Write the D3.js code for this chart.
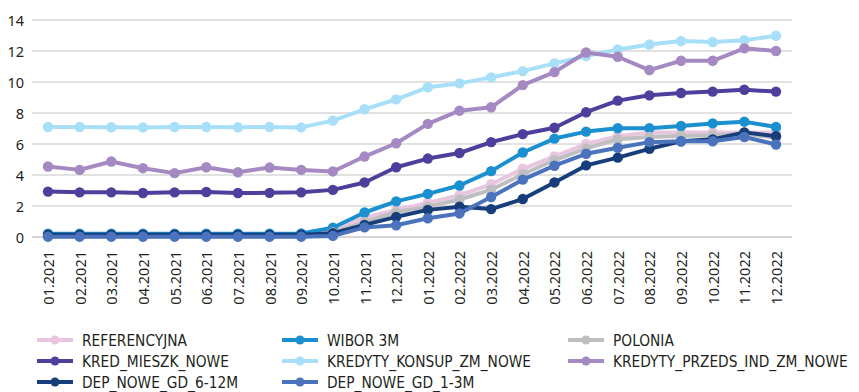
<!DOCTYPE html>
<html>
<head>
<meta charset="utf-8">
<script src="https://cdn.jsdelivr.net/npm/d3@7/dist/d3.min.js"></script>
<style>
  html, body { margin: 0; padding: 0; background: #fff; }
  svg { display: block; }
  .tick-label { font-family: "Noto Sans", "Open Sans", sans-serif; font-size: 14.5px; fill: #231f20; }
  .legend-label { font-family: "DejaVu Sans Condensed", "Liberation Sans Narrow", sans-serif; font-size: 15.3px; fill: #231f20; }
</style>
</head>
<body>
<svg id="chart" width="859" height="392"></svg>
<script>
// Monthly interest rates, 01.2021 – 12.2022 (%)
const months = ["01.2021","02.2021","03.2021","04.2021","05.2021","06.2021","07.2021","08.2021","09.2021","10.2021","11.2021","12.2021",
                "01.2022","02.2022","03.2022","04.2022","05.2022","06.2022","07.2022","08.2022","09.2022","10.2022","11.2022","12.2022"];

const yTicks = [0, 2, 4, 6, 8, 10, 12, 14];

const referencyjna = [0.1,0.1,0.1,0.1,0.1,0.1,0.1,0.1,0.1,0.5,1.25,1.75,2.2,2.7,3.4,4.4,5.2,6.0,6.5,6.75,6.75,6.75,6.75,6.75];
const wibor3m      = [0.21,0.21,0.21,0.21,0.21,0.21,0.21,0.21,0.23,0.6,1.58,2.3,2.78,3.32,4.25,5.45,6.35,6.8,7.02,7.02,7.16,7.33,7.44,7.1];
const polonia      = [0.05,0.05,0.05,0.05,0.05,0.05,0.05,0.05,0.05,0.3,0.95,1.6,1.95,2.42,3.05,4.05,4.95,5.72,6.3,6.45,6.52,6.56,6.66,6.4];
const kredMieszk   = [2.93,2.88,2.88,2.84,2.88,2.9,2.84,2.85,2.88,3.04,3.52,4.5,5.06,5.42,6.12,6.64,7.05,8.05,8.8,9.14,9.29,9.38,9.5,9.38];
const kredKonsup   = [7.1,7.1,7.08,7.07,7.1,7.1,7.08,7.1,7.07,7.51,8.24,8.88,9.66,9.91,10.3,10.7,11.2,11.67,12.1,12.42,12.64,12.58,12.7,12.98];
const kredPrzeds   = [4.55,4.33,4.87,4.44,4.12,4.5,4.18,4.48,4.33,4.23,5.19,6.05,7.3,8.15,8.37,9.8,10.64,11.9,11.63,10.77,11.37,11.37,12.17,12.0];
const dep612       = [0.15,0.15,0.15,0.15,0.15,0.15,0.15,0.15,0.15,0.24,0.78,1.3,1.75,1.95,1.8,2.45,3.52,4.62,5.12,5.69,6.17,6.3,6.75,6.5];
const dep13        = [0.02,0.02,0.02,0.02,0.02,0.02,0.02,0.02,0.02,0.07,0.62,0.76,1.21,1.52,2.58,3.7,4.6,5.37,5.76,6.12,6.18,6.18,6.45,5.97];

const seriesNames  = ["REFERENCYJNA","WIBOR 3M","POLONIA","KRED_MIESZK_NOWE","KREDYTY_KONSUP_ZM_NOWE","KREDYTY_PRZEDS_IND_ZM_NOWE","DEP_NOWE_GD_6-12M","DEP_NOWE_GD_1-3M"];
const seriesValues = [referencyjna, wibor3m, polonia, kredMieszk, kredKonsup, kredPrzeds, dep612, dep13];
const seriesColors = ["#e8c6df","#1b90d0","#bfbfc1","#4f3e9b","#a8dff8","#a589c2","#173e7b","#4a72bd"];

const svg = d3.select("#chart");

const x = d3.scalePoint().domain(months).range([48, 776]);
const y = d3.scaleLinear().domain([0, 14]).range([237, 20]);
const plotLeft = 32, plotRight = 792;

// horizontal gridlines
svg.append("g").selectAll("line").data(yTicks).join("line")
  .attr("x1", plotLeft).attr("x2", plotRight)
  .attr("y1", d => y(d)).attr("y2", d => y(d))
  .attr("stroke", d => d === 0 ? "#c8c8c8" : "#d9d9d9")
  .attr("stroke-width", 1.5);

// y tick labels
svg.append("g").selectAll("text").data(yTicks).join("text")
  .attr("class", "tick-label")
  .attr("x", 24).attr("y", d => y(d))
  .attr("text-anchor", "end").attr("dominant-baseline", "central")
  .text(d => d);

// x tick labels, rotated
svg.append("g").selectAll("text").data(months).join("text")
  .attr("class", "tick-label")
  .attr("transform", d => `translate(${x(d)},251) rotate(-90)`)
  .attr("text-anchor", "end").attr("dominant-baseline", "central")
  .text(d => d);

// series lines and markers
const line = d3.line().x((d, i) => x(months[i])).y(d => y(d));
seriesValues.forEach((vals, s) => {
  const g = svg.append("g");
  g.append("path").datum(vals)
    .attr("d", line).attr("fill", "none")
    .attr("stroke", seriesColors[s]).attr("stroke-width", 4)
    .attr("stroke-linejoin", "round");
  g.selectAll("circle").data(vals).join("circle")
    .attr("cx", (d, i) => x(months[i])).attr("cy", d => y(d))
    .attr("r", 5.2).attr("fill", seriesColors[s]);
});

// legend: 3 columns, 3 rows
const legCols = [37, 282, 568];
const legRows = [340, 361, 382];
const leg = svg.append("g");
seriesNames.forEach((name, i) => {
  const cx = legCols[i % 3], cy = legRows[Math.floor(i / 3)];
  const g = leg.append("g");
  g.append("line").attr("x1", cx).attr("x2", cx + 36).attr("y1", cy).attr("y2", cy)
    .attr("stroke", seriesColors[i]).attr("stroke-width", 4);
  g.append("circle").attr("cx", cx + 18).attr("cy", cy).attr("r", 4.5).attr("fill", seriesColors[i]);
  g.append("text").attr("class", "legend-label")
    .attr("x", cx + 45).attr("y", cy + 5.5)
    .text(name);
});
</script>
</body>
</html>
